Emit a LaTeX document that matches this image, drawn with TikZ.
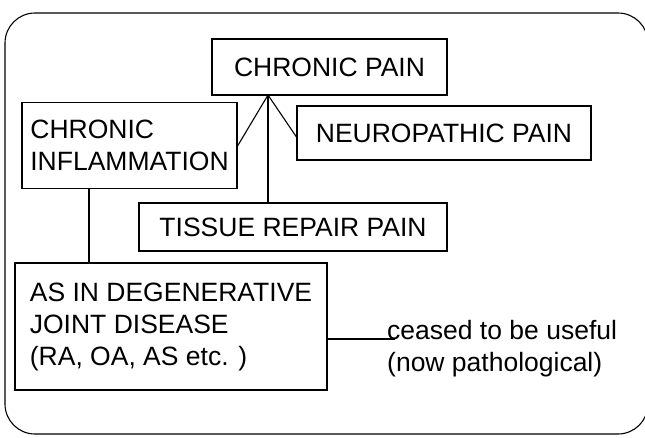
\documentclass[tikz,border=0pt]{standalone}
\usepackage{fontspec}
\setmainfont{Liberation Sans}
\begin{document}
\begin{tikzpicture}[x=1pt,y=-1pt,
  every node/.style={font=\fontsize{26.5}{32}\selectfont},
  box/.style={draw,line width=1.1pt,inner sep=0pt,align=left},
  conn/.style={line width=1.1pt}]
\clip (0,0) rectangle (645,437);
\useasboundingbox (0,0) rectangle (645,437);
\draw[conn,rounded corners=30pt] (5,13) rectangle (648,434);
\node[box,minimum width=235,minimum height=56] (cp) at (329.5,67) {CHRONIC PAIN};
\node[box,minimum width=215,minimum height=86] (ci) at (129.5,145.5) {CHRONIC\\INFLAMMATION};
\node[box,minimum width=294,minimum height=54] (np) at (444,133) {NEUROPATHIC PAIN};
\node[box,minimum width=308,minimum height=48] (trp) at (293,227) {TISSUE REPAIR PAIN};
\node[box,minimum width=312,minimum height=127] (as) at (171,326.5) {AS IN DEGENERATIVE\\JOINT DISEASE\\(RA, OA, AS etc. )};
\coordinate (apex) at (268,95);
\draw[conn] (apex) -- (ci.east |- 0,146);
\draw[conn] (apex) -- (np.west |- 0,137);
\draw[conn] (apex) -- (apex |- trp.north);
\draw[conn] (ci.south -| 89,0) -- (as.north -| 89,0);
\coordinate (lead) at (395,339);
\draw[conn] (as.east |- lead) -- (lead);
\node[align=left,inner sep=0pt,anchor=west] (note) at (387,349) {ceased to be useful\\(now pathological)};
\end{tikzpicture}
\end{document}
